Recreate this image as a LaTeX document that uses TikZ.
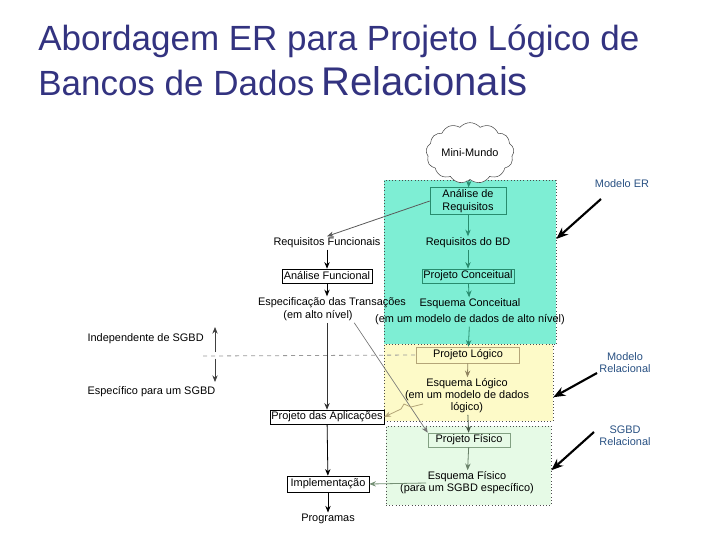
\documentclass[tikz,border=0pt]{standalone}
\usepackage{fontspec}
\setmainfont{Liberation Sans}
\setsansfont{Liberation Sans}
\usetikzlibrary{
  arrows.meta,
  positioning,
  shapes.symbols,
  calc
}
\definecolor{titulo}{RGB}{51,51,128}
\definecolor{erfill}{RGB}{126,238,212}
\definecolor{relfill}{RGB}{253,250,200}
\definecolor{sgbdfill}{RGB}{230,250,230}
\definecolor{erline}{RGB}{40,140,110}
\definecolor{relline}{RGB}{180,165,120}
\definecolor{sgbdline}{RGB}{130,160,130}
\definecolor{rotulo}{RGB}{40,80,130}

\begin{document}
\begin{tikzpicture}[
  x=0.75pt, y=-0.75pt,
  every node/.style={font=\sffamily\fontsize{8.2}{9}\selectfont, inner sep=1pt},
  regiao/.style={draw=black!70, dotted, inner sep=0pt},
  caixa/.style={draw, rectangle, inner sep=1pt, fill=white},
  seta/.style={-{Stealth[length=5pt,width=4pt]}, line width=0.6pt},
  grossa/.style={-{Stealth[length=9pt,width=7pt]}, line width=1.6pt},
  lateral/.style={text=rotulo, align=center}
]
\useasboundingbox (0,0) rectangle (720,540);

% titulo
\node[anchor=base west, inner sep=0pt, text=titulo,
      font=\fontsize{26.25}{30}\selectfont] (tit1) at (38,50)
  {Abordagem ER para Projeto Lógico de};
\node[anchor=base west, inner sep=0pt, text=titulo,
      font=\fontsize{26.25}{30}\selectfont] (tit2) at (38,95)
  {Bancos de Dados\hspace{5pt}{\fontsize{30}{34}\selectfont Relacionais}};

% regioes
\node[regiao, fill=erfill, minimum width=129pt, minimum height=123pt] (er) at (470,262) {};
\node[regiao, fill=relfill, minimum width=126.75pt, minimum height=57.75pt] (rel) at (468.5,382.5) {};
\node[regiao, fill=sgbdfill, minimum width=123.75pt, minimum height=59.25pt] (sgbd) at (468.5,465.5) {};

% coluna central
\node[cloud, draw=black!70, cloud puffs=13, cloud puff arc=100, aspect=1.6,
      minimum width=58pt, minimum height=36pt, fill=white] (mundo) at (470,153) {Mini-Mundo};
\node[caixa, draw=erline, fill=erfill, align=center, minimum width=57pt, minimum height=20pt,
      font=\sffamily\fontsize{8.2}{9.75}\selectfont] (areq) at (468,201) {Análise de\\Requisitos};
\node (reqbd) at (468,243) {Requisitos do BD};
\node[caixa, draw=erline, fill=erfill, minimum width=69pt, minimum height=10.5pt] (pconc) at (468,276) {Projeto Conceitual};
\node[align=center] (econc) at (470,312) {Esquema Conceitual\\[3pt](em um modelo de dados de alto nível)};
\node[caixa, draw=relline, fill=relfill, minimum width=77pt, minimum height=12pt] (plog) at (468,355) {Projeto Lógico};
\node[align=center] (elog) at (467,396) {Esquema Lógico\\(em um modelo de dados\\lógico)};
\node[caixa, draw=sgbdline, fill=sgbdfill, minimum width=61.5pt, minimum height=10.5pt] (pfis) at (469,440) {Projeto Físico};
\node[align=center] (efis) at (467,483) {Esquema Físico\\(para um SGBD específico)};

% coluna esquerda
\node (rfunc) at (327,243) {Requisitos Funcionais};
\node[caixa, minimum width=67.5pt, minimum height=10.5pt] (afunc) at (327,276) {Análise Funcional};
\node (espec) at (332,303) {Especificação das Transações};
\node (especb) at (318,316) {(em alto nível)};
\node[caixa, minimum width=81pt, minimum height=10.5pt] (paplic) at (327,417) {Projeto das Aplicações};
\node[caixa, minimum width=61.5pt, minimum height=12pt] (impl) at (328,484) {Implementação};
\node (prog) at (328,519) {Programas};

% independencia
\node[anchor=west] (indep) at (86,339) {Independente de SGBD};
\node[anchor=west] (espsgbd) at (86,392) {Específico para um SGBD};
\coordinate (traco) at (203,356);
\coordinate (meio) at (215,356);
\coordinate (cima) at (215,327);
\coordinate (baixo) at (215,382);
\draw[dashed, black!40, line width=0.6pt] (traco) -- (plog.west);
\draw[seta, black!75] ([yshift=3pt]meio) -- (cima);
\draw[seta, black!75] ([yshift=-2pt]meio) -- (baixo);

% rotulos laterais
\node[lateral] (mer) at (622,184) {Modelo ER};
\node[lateral] (mrel) at (625,363) {Modelo\\Relacional};
\node[lateral] (msgbd) at (625,436) {SGBD\\Relacional};
\coordinate (cer) at (601,199);
\coordinate (crel) at (597,373);
\coordinate (csgbd) at (594,432);
\draw[grossa] (cer) -- ($(er.north east)!0.36!(er.south east)$);
\draw[grossa] (crel) -- ($(rel.north east)!0.69!(rel.south east)$);
\draw[grossa] (csgbd) -- ($(sgbd.north east)!0.56!(sgbd.south east)$);

% fluxo central
\draw[seta, erline] (mundo) -- (areq);
\draw[seta, erline] (areq) -- (reqbd);
\draw[seta, erline] (reqbd) -- (pconc);
\draw[seta, erline] (pconc) -- (econc);
\draw[seta, erline] (econc) -- (plog);
\draw[seta, relline!80!black] (plog) -- (elog);
\draw[seta, black!45!sgbdline] (elog) -- (pfis);
\draw[seta, black!20!sgbdline] (pfis) -- (efis);

% fluxo esquerdo
\draw[seta, black!65] (areq.west) -- (rfunc.north);
\draw[seta] (rfunc) -- (afunc);
\draw[seta] (afunc.south) -- (afunc.south |- espec.north);
\draw[seta, black!80] (paplic.north |- especb.south) -- (paplic.north);
\draw[seta] (paplic) -- (impl);
\draw[seta] (impl) -- (prog);

% ligacoes cruzadas
\draw[seta, black!55, line width=0.5pt] (especb.south east) -- (pfis.north west);
\coordinate (zz) at (423,404);
\draw[seta, relline] (zz) -- ++(-12,3) -- ++(-7,-3) -- ++(-3,5) -- (paplic.east);
\coordinate (ef) at (426,483);
\draw[seta, sgbdline!90!black] (ef) -- (impl.east);

\end{tikzpicture}
\end{document}
